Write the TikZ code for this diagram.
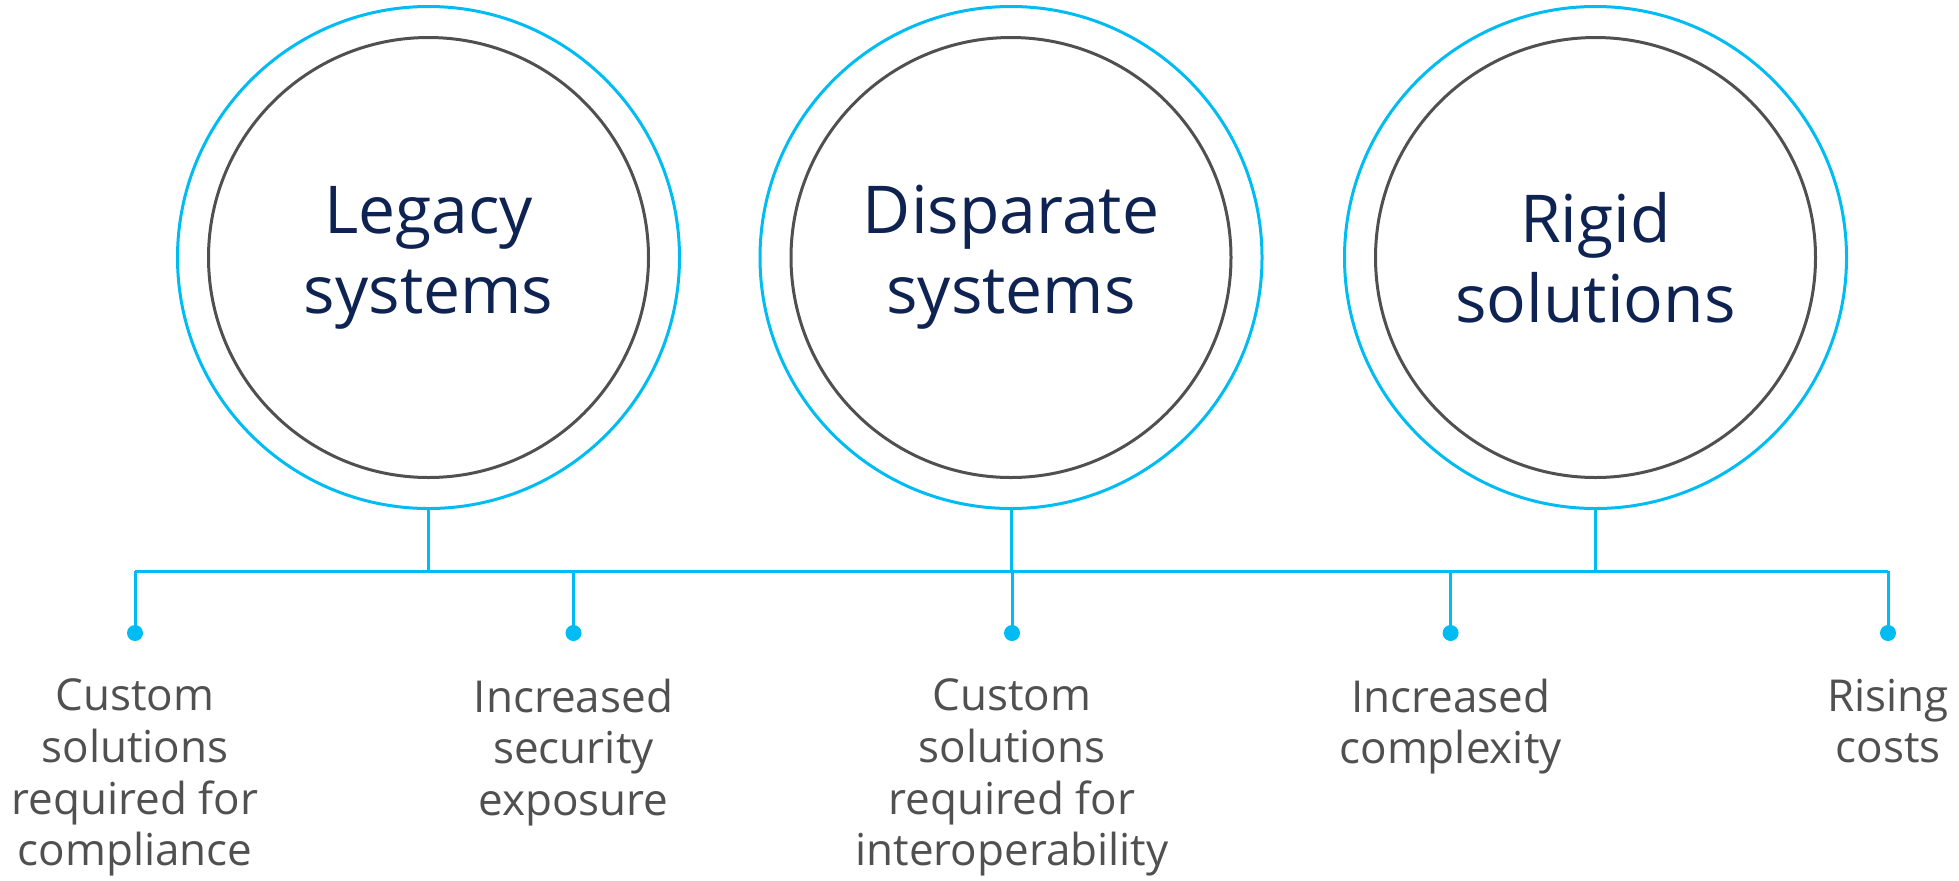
\documentclass[tikz,border=0pt]{standalone}
\usepackage{fontspec}
\setmainfont{Open Sans}
\usetikzlibrary{positioning}
\definecolor{azure}{HTML}{00BCF2}
\definecolor{slate}{HTML}{505050}
\definecolor{navy}{HTML}{0F2353}
\tikzset{
  ring/.style={circle, draw=azure, line width=1.5pt, minimum size=251pt, inner sep=0pt},
  core/.style={circle, draw=slate, line width=1.5pt, minimum size=220pt, inner sep=0pt,
    align=center, text=navy, font=\fontsize{33}{40}\selectfont},
  bus/.style={draw=azure, line width=1.5pt},
  pin/.style={circle, fill=azure, minimum size=8pt, inner sep=0pt},
  note/.style={text=slate, align=center, inner sep=0pt, font=\fontsize{22}{25.85}\selectfont}
}
\begin{document}
\begin{tikzpicture}[x=0.5pt, y=-0.5pt]
    \useasboundingbox (0,0) rectangle (1959,880);
    % the three rings
    \node[ring] (legacy) at (428.5,257.5) {};
    \node[core] (legacyin) at (legacy) {Legacy\\systems};
    \node[ring] (disparate) at (1011,257.5) {};
    \node[core] (disparatein) at (disparate) {Disparate\\systems};
    \node[ring] (rigid) at (1595.5,257.5) {};
    \node[core] (rigidin) at (rigid) {Rigid\\solutions};
    % joints on the bus
    \coordinate (jlegacy) at (428.5,571);
    \coordinate (jdisparate) at (1011,571);
    \coordinate (jrigid) at (1595.5,571);
    \draw[bus] (legacy.south) -- (jlegacy);
    \draw[bus] (disparate.south) -- (jdisparate);
    \draw[bus] (rigid.south) -- (jrigid);
    % pins
    \foreach \x/\n in {135/p1, 573.5/p2, 1012/p3, 1450.6/p4, 1888/p5}{
        \coordinate (t\n) at (\x,571);
        \node[pin] (\n) at (\x,633) {};
        \draw[bus] (t\n) -- (\n.center);
    }
    \draw[bus] (tp1) -- (tp5);
    % labels
    \node[note, below=18.5pt of p1] (l1) {Custom\\solutions\\required for\\compliance};
    \node[note, below=18.5pt of p2] (l2) {Increased\\security\\exposure};
    \node[note, below=18.5pt of p3] (l3) {Custom\\solutions\\required for\\interoperability};
    \node[note, below=18.5pt of p4] (l4) {Increased\\complexity};
    \node[note, below=18.5pt of p5] (l5) {Rising\\costs};
\end{tikzpicture}
\end{document}
